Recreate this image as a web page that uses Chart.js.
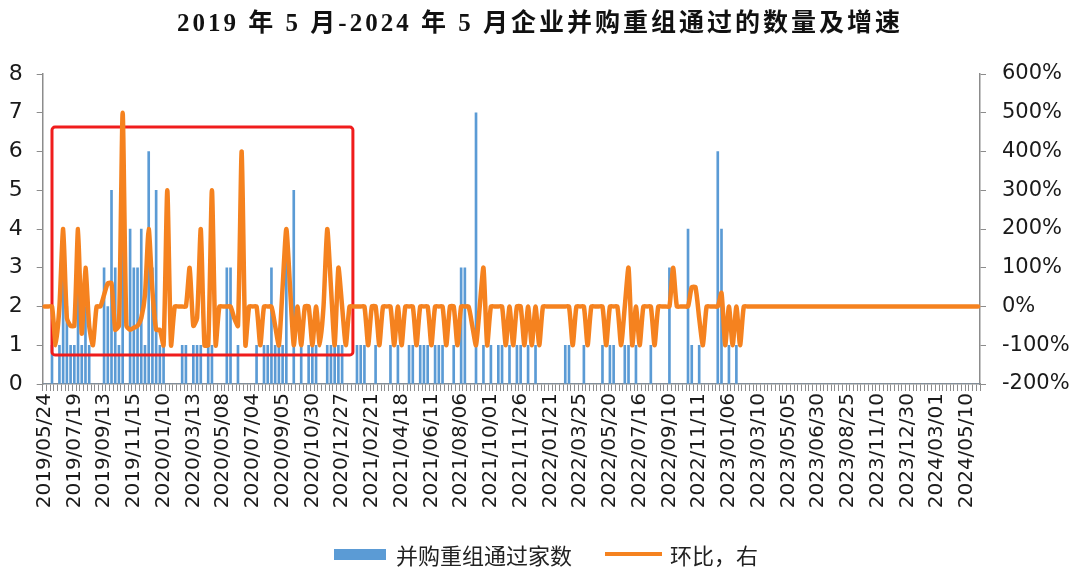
<!DOCTYPE html>
<html>
<head>
<meta charset="utf-8">
<script src="https://cdn.jsdelivr.net/npm/chart.js@4.4.1/dist/chart.umd.min.js"></script>
<style>
  html, body { margin: 0; padding: 0; background: #fff; }
  #wrap { position: relative; width: 1080px; height: 581px; }
  #title {
    position: absolute; top: 2px; left: 0; width: 1080px; text-align: center;
    font-family: "Liberation Serif", "Noto Sans CJK SC", serif; font-weight: bold;
    font-size: 25px; letter-spacing: 3px; color: #111; white-space: nowrap;
  }
  #legend {
    position: absolute; top: 539px; left: 6px; width: 1080px; height: 30px;
    display: flex; justify-content: center; align-items: center;
    font-family: "Noto Sans CJK SC", sans-serif; font-size: 22px; color: #222;
  }
  .swatch-bar { width: 52px; height: 11px; background: #5B9BD5; margin-right: 10px; }
  .swatch-line { width: 57px; height: 4px; background: #F5821F; margin-left: 33px; margin-right: 8px; }
</style>
</head>
<body>
<div id="wrap">
  <canvas id="mergerChart" width="1080" height="581"></canvas>
  <div id="title">2019 年 5 月-2024 年 5 月企业并购重组通过的数量及增速</div>
  <div id="legend">
    <span class="swatch-bar"></span><span>并购重组通过家数</span>
    <span class="swatch-line"></span><span>环比，右</span>
  </div>
</div>
<script>
const tickLabels = ['2019/05/24', '2019/07/19', '2019/09/13', '2019/11/15', '2020/01/10', '2020/03/13',
    '2020/05/08', '2020/07/04', '2020/09/05', '2020/10/30', '2020/12/27', '2021/02/21', '2021/04/18',
    '2021/06/11', '2021/08/06', '2021/10/01', '2021/11/26', '2022/01/21', '2022/03/25', '2022/05/20',
    '2022/07/16', '2022/09/10', '2022/11/11', '2023/01/06', '2023/03/10', '2023/05/05', '2023/06/30',
    '2023/08/25', '2023/11/10', '2023/12/30', '2024/03/01', '2024/05/10'];

// 并购重组通过家数 (每周)
const dealCount = [
    0, 0, 1, 0, 1, 3, 2, 1,
    1, 3, 1, 2, 1, 0, 0, 0,
    3, 2, 5, 3, 1, 6, 0, 4,
    3, 3, 4, 1, 6, 3, 5, 1,
    1, 0, 0, 0, 0, 1, 1, 0,
    1, 1, 1, 0, 1, 1, 0, 0,
    0, 3, 3, 0, 1, 0, 0, 0,
    0, 1, 0, 1, 1, 3, 1, 1,
    1, 4, 0, 5, 0, 1, 0, 1,
    1, 1, 0, 0, 1, 1, 1, 1,
    1, 0, 0, 0, 1, 1, 1, 0,
    0, 1, 0, 0, 0, 1, 0, 1,
    0, 0, 1, 1, 0, 1, 1, 1,
    0, 1, 1, 1, 0, 0, 1, 0,
    3, 3, 0, 0, 7, 0, 1, 0,
    1, 0, 1, 1, 0, 1, 0, 1,
    1, 0, 1, 0, 1, 0, 0, 0,
    0, 0, 0, 0, 1, 1, 0, 0,
    0, 1, 0, 0, 0, 0, 1, 0,
    1, 1, 0, 0, 1, 1, 0, 1,
    0, 0, 0, 1, 0, 0, 0, 0,
    3, 0, 0, 0, 0, 4, 1, 0,
    1, 0, 0, 0, 0, 6, 4, 0,
    1, 0, 1, 0, 0, 0, 0, 0,
    0, 0, 0, 0, 0, 0, 0, 0,
    0, 0, 0, 0, 0, 0, 0, 0,
    0, 0, 0, 0, 0, 0, 0, 0,
    0, 0, 0, 0, 0, 0, 0, 0,
    0, 0, 0, 0, 0, 0, 0, 0,
    0, 0, 0, 0, 0, 0, 0, 0,
    0, 0, 0, 0, 0, 0, 0, 0,
    0, 0, 0, 0
];

// 环比 (%)，右轴
const growthPct = [
    0, 0, 0, -100, 0, 200, -30, -50,
    -50, 200, -70, 100, -50, -100, 0, 0,
    30, 60, 60, -60, -50, 500, -50, -60,
    -55, -50, -30, 30, 200, 40, -60, -60,
    -100, 300, -100, 0, 0, 0, 0, 100,
    -50, -30, 200, -100, -100, 300, -100, 0,
    0, 0, 0, -30, -50, 400, -100, 0,
    0, 0, -100, 0, 0, 0, -50, -100,
    50, 200, 50, -100, 0, -100, 0, 0,
    -100, 0, -100, 0, 200, 50, -100, 100,
    0, -100, 0, 0, 0, 0, 0, -100,
    0, 0, -100, 0, 0, 0, -100, 0,
    -100, 0, 0, 0, -100, 0, 0, 0,
    -100, 0, 0, 0, -100, 0, 0, -100,
    0, 0, 0, -50, -100, 0, 100, -100,
    0, 0, 0, 0, -100, 0, -100, 0,
    0, -100, 0, -100, 0, -100, 0, 0,
    0, 0, 0, 0, 0, 0, -100, 0,
    0, 0, -100, 0, 0, 0, 0, -100,
    0, 0, 0, -100, 0, 100, -100, 0,
    -100, 0, 0, 0, -100, 0, 0, 0,
    0, 100, 0, 0, 0, 0, 50, 50,
    -30, -100, 0, 0, 0, 0, 35, -100,
    0, -100, 0, -100, 0, 0, 0, 0,
    0, 0, 0, 0, 0, 0, 0, 0,
    0, 0, 0, 0, 0, 0, 0, 0,
    0, 0, 0, 0, 0, 0, 0, 0,
    0, 0, 0, 0, 0, 0, 0, 0,
    0, 0, 0, 0, 0, 0, 0, 0,
    0, 0, 0, 0, 0, 0, 0, 0,
    0, 0, 0, 0, 0, 0, 0, 0,
    0, 0, 0, 0
];

// 每 8 周显示一个日期
const labels = dealCount.map((_, i) => (i % 8 === 0 ? tickLabels[i / 8] : ''));

const axisColor = '#8c8c8c';
const textColor = '#1a1a1a';

// 红框：2019-2020 区间 (x 为周序号，y 为左轴数值)
const highlight = { from: 2, to: 82.9, low: 0.75, high: 6.63 };

const redBox = {
    id: 'redBox',
    afterDatasetDraw(chart, args) {
        if (args.index !== 0) return;
        const x = chart.scales.x;
        const y = chart.scales.y;
        const left = x.getPixelForValue(highlight.from);
        const right = x.getPixelForValue(highlight.to);
        const top = y.getPixelForValue(highlight.high);
        const bottom = y.getPixelForValue(highlight.low);
        const ctx = chart.ctx;
        ctx.save();
        ctx.strokeStyle = '#f01c1c';
        ctx.lineWidth = 3;
        ctx.beginPath();
        ctx.roundRect(left, top, right - left, bottom - top, 3);
        ctx.stroke();
        ctx.restore();
    }
};

const ctx = document.getElementById('mergerChart').getContext('2d');

new Chart(ctx, {
    data: {
        labels: labels,
        datasets: [{
            type: 'bar',
            label: '并购重组通过家数',
            data: dealCount,
            backgroundColor: '#5B9BD5',
            barThickness: 2,
            yAxisID: 'y',
            order: 2
        }, {
            type: 'line',
            label: '环比，右',
            data: growthPct,
            borderColor: '#F5821F',
            borderWidth: 4.5,
            pointRadius: 0,
            tension: 0.2,
            borderJoinStyle: 'round',
            borderCapStyle: 'round',
            yAxisID: 'y1',
            order: 1
        }]
    },
    options: {
        responsive: false,
        animation: false,
        devicePixelRatio: 1,
        layout: { padding: { top: 74, bottom: 47, left: 0, right: 0 } },
        plugins: {
            legend: { display: false },
            title: { display: false },
            tooltip: { enabled: false }
        },
        scales: {
            x: {
                type: 'category',
                offset: true,
                grid: { drawOnChartArea: false, tickLength: 7, color: axisColor, offset: true },
                border: { color: axisColor, width: 1.5 },
                ticks: {
                    autoSkip: false,
                    minRotation: 90,
                    maxRotation: 90,
                    padding: 2,
                    color: textColor,
                    font: { family: 'DejaVu Sans', size: 20 }
                },
                afterFit: function(scale) { scale.height = 150; }
            },
            y: {
                position: 'left',
                min: 0,
                max: 8,
                grid: { drawOnChartArea: false, tickLength: 6, color: axisColor },
                border: { color: axisColor, width: 1.5 },
                ticks: {
                    stepSize: 1,
                    padding: 14,
                    color: textColor,
                    font: { family: 'DejaVu Sans', size: 22 }
                },
                afterFit: function(scale) { scale.width = 42.7; }
            },
            y1: {
                position: 'right',
                min: -200,
                max: 600,
                grid: { drawOnChartArea: false, tickLength: 6, color: axisColor },
                border: { color: axisColor, width: 1.5 },
                ticks: {
                    stepSize: 100,
                    padding: 16,
                    color: textColor,
                    font: { family: 'DejaVu Sans', size: 21 },
                    callback: function(value) { return value + '%'; }
                },
                afterFit: function(scale) { scale.width = 100; }
            }
        }
    },
    plugins: [redBox]
});
</script>
</body>
</html>
